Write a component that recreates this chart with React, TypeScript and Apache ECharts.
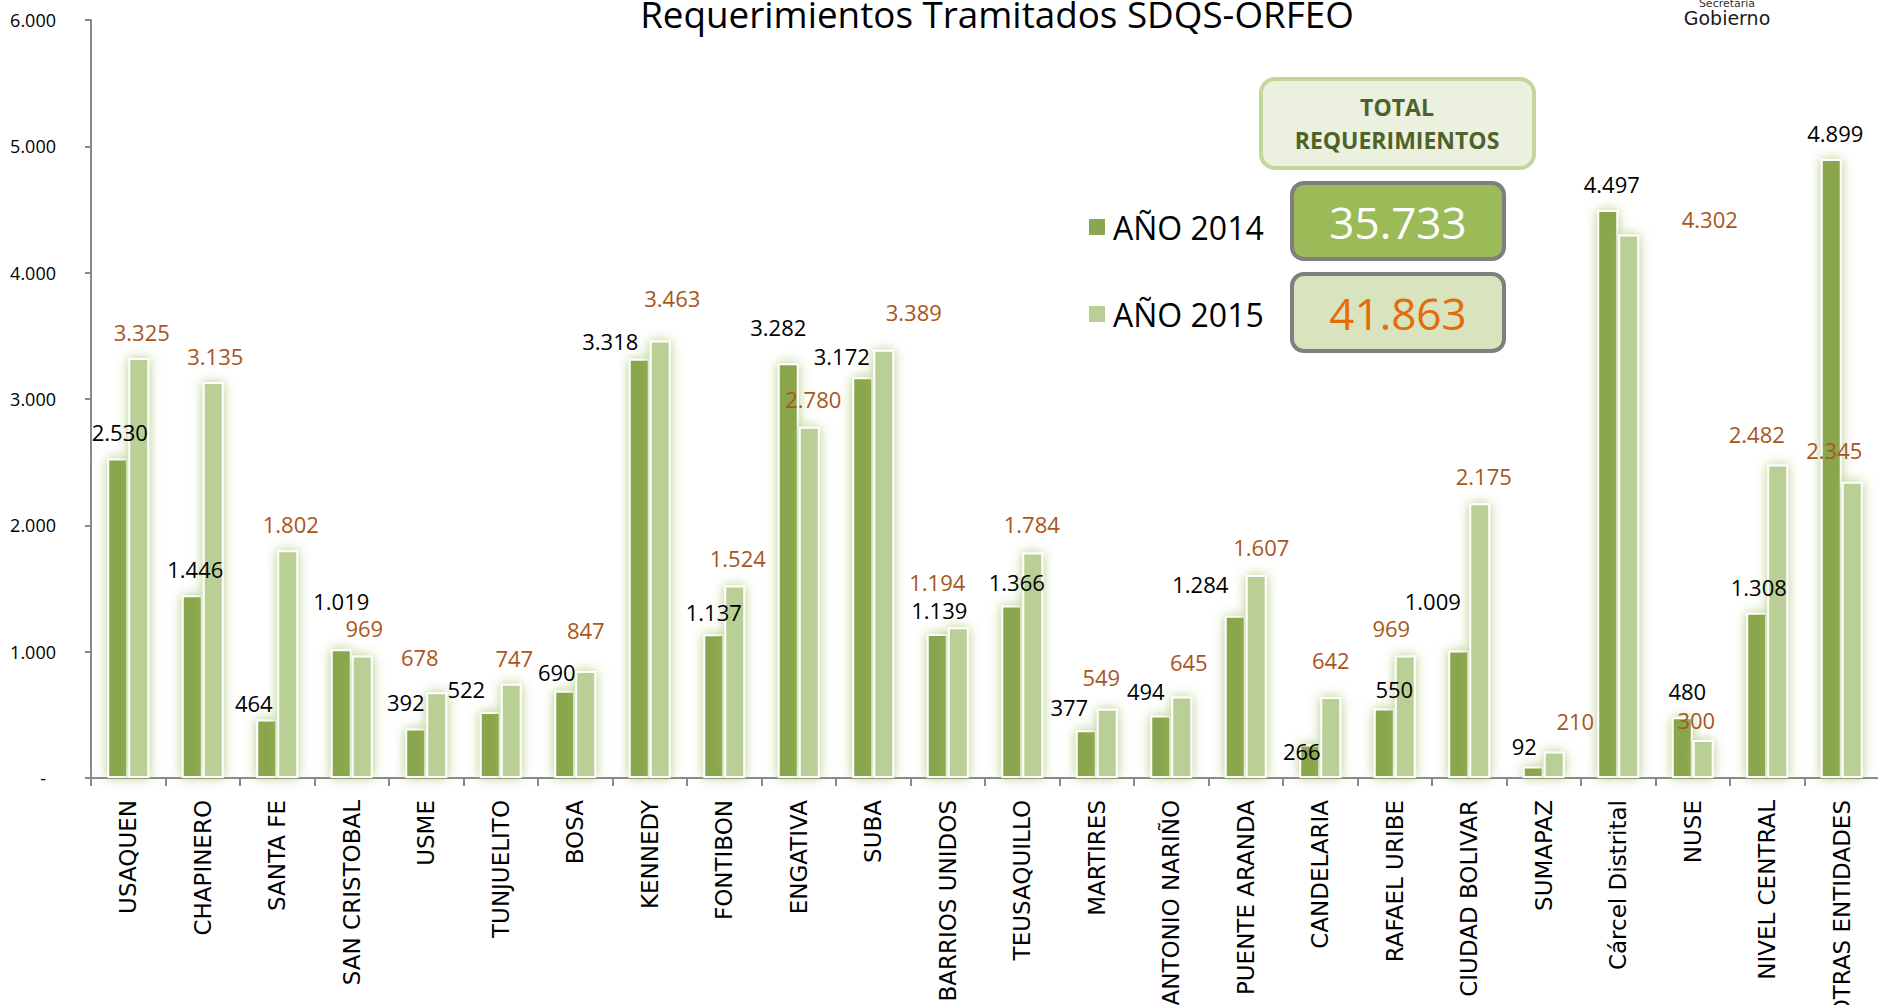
import React, { useEffect, useRef } from "react";
import * as echarts from "echarts";

const categories = [
  "USAQUEN", "CHAPINERO", "SANTA FE", "SAN CRISTOBAL", "USME", "TUNJUELITO", "BOSA",
  "KENNEDY", "FONTIBON", "ENGATIVA", "SUBA", "BARRIOS UNIDOS", "TEUSAQUILLO", "MARTIRES",
  "ANTONIO NARIÑO", "PUENTE ARANDA", "CANDELARIA", "RAFAEL URIBE", "CIUDAD BOLIVAR",
  "SUMAPAZ", "Cárcel Distrital", "NUSE", "NIVEL CENTRAL", "OTRAS ENTIDADES",
];
const values2014 = [2530, 1446, 464, 1019, 392, 522, 690, 3318, 1137, 3282, 3172, 1139, 1366, 377, 494, 1284, 266, 550, 1009, 92, 4497, 480, 1308, 4899];
const values2015 = [3325, 3135, 1802, 969, 678, 747, 847, 3463, 1524, 2780, 3389, 1194, 1784, 549, 645, 1607, 642, 969, 2175, 210, 4302, 300, 2482, 2345];
const seriesNames = ["AÑO 2014", "AÑO 2015"];
const totals = ["35.733", "41.863"];
const yTicks = [0, 1000, 2000, 3000, 4000, 5000, 6000];

// label placement nudges (pixels), separate from data
const labelOffsets2014 = [[2,0],[3,0],[-13,10],[0,-22],[-10,0],[-24,3],[-8,7],[-29,8],[0,4],[-10,-10],[-21,5],[2,2],[5,3],[-17,3],[-15,1],[-35,-6],[-8,33],[10,6],[-26,-24],[-9,6],[4,0],[5,0],[2,0],[4,0]];
const labelOffsets2015 = [[3,0],[2,0],[3,0],[2,-2],[-17,-9],[3,0],[0,-15],[12,-17],[3,-1],[4,-2],[30,-12],[-21,-19],[-1,-3],[-6,-6],[7,-9],[5,-2],[0,-11],[-14,-2],[4,-1],[21,-4],[81,10],[-7,6],[-21,-4],[-18,-6]];

const fmt = (n: number) => String(n).replace(/\B(?=(\d{3})+(?!\d))/g, ".");

const DARK = "#8AA64E";
const LIGHT = "#BACF96";
const ORANGE_LABEL = "#A8561B";

export default function App() {
  const ref = useRef<HTMLDivElement>(null);
  useEffect(() => {
    document.body.style.margin = "0";
    if (!ref.current) return;
    const chart = echarts.init(ref.current, undefined, { renderer: "svg" });
    const mkData = (vals: number[], offs: number[][]) =>
      vals.map((v, i) => ({ value: v, label: { offset: offs[i] } }));
    const barCommon = {
      type: "bar",
      barWidth: 21,
      barGap: "0%",
      label: {
        show: true,
        position: "top",
        distance: 13,
        fontFamily: "Open Sans",
        fontSize: 22,
        lineHeight: 26,
        formatter: (p: any) => fmt(p.value),
      },
    };
    chart.setOption({
      animation: false,
      backgroundColor: "#ffffff",
      grid: { left: 91, top: 20, width: 1788, height: 758, containLabel: false, outerBoundsMode: "none" },
      legend: {
        orient: "vertical",
        left: 1084,
        top: 206,
        itemWidth: 16,
        itemHeight: 16,
        itemGap: 55,
        icon: "rect",
        data: seriesNames,
        itemStyle: { borderWidth: 0, shadowBlur: 0 },
        textStyle: { fontFamily: "Open Sans", fontSize: 32, lineHeight: 32, color: "#000", padding: [0, 0, 0, 3] },
      },
      xAxis: {
        type: "category",
        data: categories,
        axisLine: { lineStyle: { color: "#898989", width: 2 } },
        axisTick: { show: true, length: 8, lineStyle: { color: "#898989", width: 2 } },
        axisLabel: {
          interval: 0,
          rotate: 90,
          margin: 22,
          fontFamily: "DejaVu Sans",
          fontSize: 23,
          color: "#000",
        },
      },
      yAxis: {
        type: "value",
        min: yTicks[0],
        max: yTicks[yTicks.length - 1],
        interval: 1000,
        splitLine: { show: false },
        axisLine: { show: true, lineStyle: { color: "#898989", width: 2 } },
        axisTick: { show: true, length: 6, lineStyle: { color: "#898989", width: 2 } },
        axisLabel: {
          margin: 35,
          fontFamily: "Open Sans",
          fontSize: 18,
          color: "#000",
          formatter: (v: number) => (v === 0 ? "{z|-}" : fmt(v)),
          rich: { z: { fontFamily: "Open Sans", fontSize: 18, color: "#000", padding: [0, 10, 0, 0] } },
        },
      },
      series: [
        {
          ...barCommon,
          name: seriesNames[0],
          data: mkData(values2014, labelOffsets2014),
          itemStyle: { color: DARK, borderColor: "#ffffff", borderWidth: 2, shadowColor: "rgba(155,187,89,0.75)", shadowBlur: 12 },
          label: { ...barCommon.label, color: "#000000" },
        },
        {
          ...barCommon,
          name: seriesNames[1],
          data: mkData(values2015, labelOffsets2015),
          itemStyle: { color: LIGHT, borderColor: "#ffffff", borderWidth: 2, shadowColor: "rgba(155,187,89,0.75)", shadowBlur: 12 },
          label: { ...barCommon.label, color: ORANGE_LABEL },
        },
      ],
      graphic: [
        {
          type: "text",
          x: 997,
          y: 14,
          style: { text: "Requerimientos Tramitados SDQS-ORFEO", fontFamily: "Open Sans", fontSize: 36.8, fill: "#000", align: "center", verticalAlign: "middle" },
        },
        {
          type: "text",
          x: 1727,
          y: 3,
          style: { text: "Secretaría", fontFamily: "DejaVu Sans", fontSize: 11, fill: "#333", align: "center", verticalAlign: "middle" },
        },
        {
          type: "text",
          x: 1727,
          y: 18,
          style: { text: "Gobierno", fontFamily: "DejaVu Sans", fontSize: 19, fill: "#1a1a1a", align: "center", verticalAlign: "middle" },
        },
        {
          type: "rect",
          shape: { x: 1261, y: 79, width: 273, height: 89, r: 14 },
          style: { fill: "#EBF1DE", stroke: "#C3D69B", lineWidth: 4 },
        },
        {
          type: "text",
          x: 1397,
          y: 107,
          style: { text: "TOTAL", fontFamily: "Open Sans", fontWeight: "bold", fontSize: 23, fill: "#4F6228", align: "center", verticalAlign: "middle" },
        },
        {
          type: "text",
          x: 1397,
          y: 140,
          style: { text: "REQUERIMIENTOS", fontFamily: "Open Sans", fontWeight: "bold", fontSize: 23, fill: "#4F6228", align: "center", verticalAlign: "middle" },
        },
        {
          type: "rect",
          shape: { x: 1292, y: 183, width: 212, height: 76, r: 12 },
          style: { fill: "#9BBB59", stroke: "#7F7F7F", lineWidth: 4 },
        },
        {
          type: "text",
          x: 1398,
          y: 222,
          style: { text: totals[0], fontFamily: "Open Sans", fontSize: 44, fill: "#ffffff", align: "center", verticalAlign: "middle" },
        },
        {
          type: "rect",
          shape: { x: 1292, y: 274, width: 212, height: 77, r: 12 },
          style: { fill: "#D7E4BD", stroke: "#7F7F7F", lineWidth: 4 },
        },
        {
          type: "text",
          x: 1398,
          y: 313,
          style: { text: totals[1], fontFamily: "Open Sans", fontSize: 44, fill: "#E46C0A", align: "center", verticalAlign: "middle" },
        },
      ],
    });
    return () => chart.dispose();
  }, []);
  return <div ref={ref} style={{ position: "absolute", left: 0, top: 0, width: 1878, height: 1005 }} />;
}
